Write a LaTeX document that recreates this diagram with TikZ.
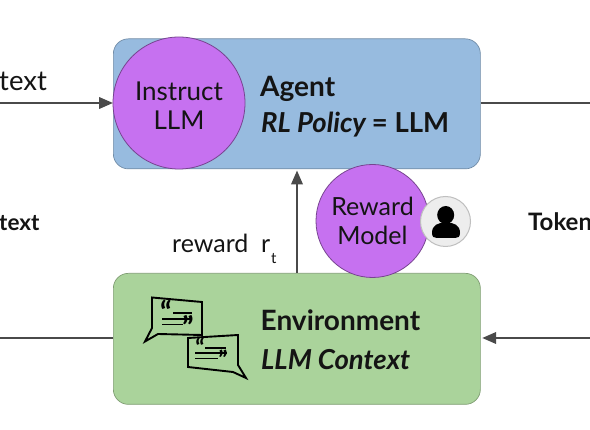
\documentclass[tikz,border=0pt]{standalone}
\usepackage{fontspec}
\setmainfont{Lato}
\usetikzlibrary{arrows.meta}
\definecolor{bluebox}{HTML}{97BBDF}
\definecolor{greenbox}{HTML}{AAD39B}
\definecolor{purp}{HTML}{C671F0}
\definecolor{ink}{HTML}{141414}
\definecolor{arrowc}{HTML}{4A4A4A}
\tikzset{
  x=1pt,y=-1pt,
  boxsty/.style={draw=#1!75!black,line width=0.7pt,rounded corners=15pt},
  circ/.style={circle,draw=#1,line width=0.8pt,fill=purp,inner sep=0pt,align=center,text=ink},
  arr/.style={draw=arrowc,line width=2.2pt,-{Triangle[length=14pt,width=11.5pt]}},
  lin/.style={draw=arrowc,line width=2.2pt},
  lab/.style={inner sep=0pt,text=ink,anchor=base west},
  bub/.style={line width=1.9pt,draw=black,line join=miter},
  bar/.style={line width=1.3pt,draw=black},
  quo/.style={inner sep=0pt,text=black,font=\fontsize{#1}{#1}\selectfont\bfseries},
}
\begin{document}
\begin{tikzpicture}
\useasboundingbox (0,0) rectangle (590,430);
\clip (0,0) rectangle (590,430);
\fill[white] (0,0) rectangle (590,430);
% boxes
\node[boxsty=bluebox,fill=bluebox,minimum width=367pt,minimum height=130pt,anchor=north west] (agent) at (113,38.5) {};
\node[boxsty=greenbox,fill=greenbox,minimum width=367pt,minimum height=131pt,anchor=north west] (env) at (113,273) {};
% connectors
\coordinate (inL) at (0,103);
\coordinate (outR) at (590,103);
\coordinate (envL) at (0,338);
\coordinate (inR) at (590,338);
\coordinate (rwB) at (297,273);
\coordinate (rwT) at (297,170.5);
\draw[lin] (agent.east |- outR) -- (outR);
\draw[lin] (env.west |- envL) -- (envL);
\draw[arr] (inL) -- (agent.west |- inL);
\draw[arr] (inR) -- ([xshift=1.5pt]env.east |- inR);
\draw[arr] (rwB) -- (rwT);
% circles
\node[circ=purp!60!black,minimum size=132pt] (instruct) at (179,103) {};
\node[inner sep=0pt,align=center,text=ink,font=\fontsize{26}{29}\selectfont] (instructT) at (179,105.5) {Instruct\\LLM};
\node[circ=purp!60!black,minimum size=113pt,font=\fontsize{25}{29}\selectfont] (reward) at (372.5,221) {Reward\\Model};
\node[circle,draw=black!25,line width=1pt,fill=black!7,minimum size=50pt,inner sep=0pt] (user) at (445.5,221.5) {};
\fill[black] (445.7,215) ellipse (8.5pt and 9pt);
\fill[black] (432,233) .. controls (432,225) and (438,222.5) .. (446,222.5) .. controls (454,222.5) and (460,225) .. (460,233) .. controls (460,237) and (458,238) .. (455,238) -- (437,238) .. controls (434,238) and (432,237) .. (432,233) -- cycle;
% labels
\node[lab,font=\fontsize{27.5}{30}\selectfont] (t1) at (-1,91) {text};
\node[lab,font=\fontsize{22.5}{28}\selectfont\bfseries] (t2) at (-1,231) {text};
\node[lab,font=\fontsize{24}{28}\selectfont\bfseries] (t3) at (528,231) {Token};
\node[lab,font=\fontsize{28}{30}\selectfont\bfseries] (a1) at (260,97) {Agent};
\node[lab,font=\fontsize{27.5}{30}\selectfont\bfseries] (a2) at (261,133) {\itshape RL Policy \upshape= LLM};
\node[lab,font=\fontsize{28}{30}\selectfont\bfseries] (e1) at (260.5,331) {Environment};
\node[lab,font=\fontsize{27.5}{30}\selectfont\bfseries\itshape] (e2) at (261,370) {LLM Context};
\node[lab,font=\fontsize{25}{28}\selectfont] (r1) at (172,253) {reward};
\node[lab,font=\fontsize{25}{28}\selectfont] (r3) at (261,253) {r};
\node[lab,font=\fontsize{15}{17}\selectfont] (r2) at (271,264) {t};
% speech bubbles
\draw[bub] (152,297.5) -- (202,302) -- (202,335) -- (158,334) -- (145,341.5) -- (152,328) -- cycle;
\draw[bub] (188,338) -- (238,335) -- (238,365) -- (246,378) -- (233,372) -- (188,367) -- cycle;
\draw[bar] (173,313) -- (192,313);
\draw[bar] (162,319) -- (192,319);
\draw[bar] (162,324.5) -- (183,324.5);
\draw[bar] (205,348) -- (226,348);
\draw[bar] (195,353) -- (227,353);
\draw[bar] (195,358.5) -- (218,358.5);
\node[quo=30] (q1) at (166,312) {“};
\node[quo=30] (q2) at (188,327) {”};
\node[quo=24] (q3) at (200,347) {“};
\node[quo=24] (q4) at (223,359) {”};
\end{tikzpicture}
\end{document}
